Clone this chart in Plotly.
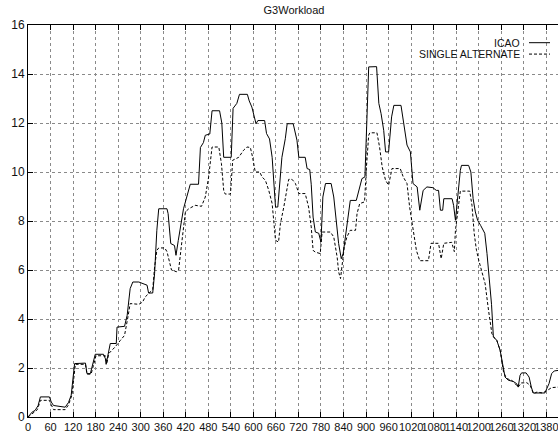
import plotly.graph_objects as go

# ICAO series (time, workload)
icao_x = [0, 11, 19, 27, 33, 57, 62, 68, 99, 108, 115, 119, 124, 153, 157, 166, 173, 179, 201, 206,
          208, 213, 219, 235, 237, 257, 264, 272, 279, 295, 305, 317, 321, 332, 337, 343, 348, 370, 373, 380,
          390, 394, 400, 410, 414, 432, 454, 459, 467, 472, 484, 490, 510, 516, 521, 541, 546, 556, 563, 584,
          589, 596, 600, 607, 612, 630, 635, 643, 650, 659, 665, 670, 676, 685, 690, 706, 712, 716, 721, 738,
          743, 750, 754, 759, 765, 774, 780, 785, 792, 807, 814, 818, 827, 834, 839, 845, 851, 858, 874, 880,
          889, 897, 901, 907, 928, 934, 940, 947, 952, 960, 968, 974, 993, 999, 1003, 1009, 1018, 1025, 1036, 1043,
          1052, 1062, 1078, 1087, 1093, 1098, 1104, 1107, 1129, 1133, 1138, 1142, 1147, 1151, 1154, 1173, 1179, 1185, 1191, 1197,
          1205, 1211, 1216, 1222, 1228, 1234, 1239, 1248, 1257, 1263, 1270, 1279, 1292, 1301, 1305, 1310, 1314, 1326, 1334, 1340,
          1345, 1370, 1376, 1387, 1394, 1401, 1411]
icao_y = [0.0, 0.2, 0.27, 0.47, 0.82, 0.82, 0.61, 0.47, 0.4, 0.6, 0.89, 1.36, 2.18, 2.2, 1.77, 1.77, 2.18, 2.56, 2.56, 2.38,
          2.15, 2.6, 3.0, 3.0, 3.67, 3.7, 4.15, 5.24, 5.51, 5.51, 5.44, 5.38, 5.06, 5.06, 5.85, 7.62, 8.5, 8.5, 8.3, 7.08,
          7.0, 6.6, 7.2, 8.2, 8.5, 9.5, 9.5, 11.0, 11.2, 11.5, 11.55, 12.5, 12.5, 12.0, 10.6, 10.6, 12.6, 12.8, 13.17, 13.17,
          12.9, 12.65, 12.4, 11.97, 12.1, 12.1, 11.57, 11.35, 10.6, 8.57, 8.57, 9.66, 10.6, 11.36, 11.97, 11.97, 11.63, 11.3, 10.6, 10.6,
          10.14, 10.1, 9.5, 8.16, 7.55, 7.5, 7.14, 8.98, 9.53, 9.53, 8.98, 8.3, 7.08, 6.46, 6.67, 7.35, 8.1, 8.84, 8.84, 9.25,
          9.73, 9.8, 11.3, 14.29, 14.3, 12.8, 12.38, 11.7, 10.82, 10.82, 12.25, 12.72, 12.72, 12.1, 11.7, 11.1, 10.82, 9.53, 9.39, 8.44,
          9.25, 9.39, 9.36, 9.25, 9.25, 8.44, 8.44, 8.91, 8.91, 8.64, 8.03, 8.7, 9.25, 10.07, 10.27, 10.27, 10.0, 8.91, 8.37, 8.03,
          7.82, 7.62, 7.5, 6.67, 5.6, 4.6, 3.27, 3.13, 2.72, 2.18, 1.63, 1.5, 1.45, 1.36, 1.22, 1.7, 1.8, 1.8, 1.63, 1.22,
          0.98, 0.98, 0.98, 1.36, 1.77, 1.88, 1.9]

# SINGLE ALTERNATE series
single_x = [0, 11, 25, 33, 57, 62, 68, 99, 108, 117, 121, 126, 153, 157, 168, 175, 181, 206, 210, 215,
            232, 246, 257, 266, 272, 295, 305, 312, 321, 332, 337, 343, 348, 364, 370, 376, 382, 395, 401, 410,
            419, 428, 445, 462, 472, 481, 490, 508, 515, 521, 525, 539, 545, 561, 574, 583, 592, 598, 605, 617,
            623, 632, 641, 650, 654, 659, 667, 672, 681, 690, 694, 703, 712, 721, 738, 747, 754, 759, 765, 778,
            783, 805, 814, 823, 827, 832, 836, 842, 849, 858, 872, 876, 883, 896, 901, 907, 910, 929, 936, 943,
            952, 960, 969, 991, 999, 1009, 1016, 1025, 1034, 1043, 1066, 1073, 1093, 1100, 1107, 1128, 1135, 1138, 1144, 1151,
            1176, 1182, 1188, 1194, 1200, 1208, 1217, 1226, 1235, 1243, 1248, 1257, 1266, 1274, 1288, 1301, 1305, 1313, 1328, 1337,
            1346, 1355, 1370, 1383, 1394, 1411]
single_y = [0.0, 0.15, 0.3, 0.68, 0.68, 0.5, 0.3, 0.3, 0.5, 0.9, 1.4, 2.15, 2.15, 1.75, 1.75, 2.15, 2.5, 2.5, 2.2, 2.59,
            2.86, 3.13, 3.33, 4.08, 4.63, 4.6, 4.69, 4.9, 5.03, 5.2, 6.12, 6.8, 6.9, 6.9, 6.75, 6.33, 6.0, 5.93, 6.0, 7.2,
            8.37, 8.5, 8.64, 8.6, 8.98, 9.8, 11.02, 11.02, 10.34, 9.25, 9.1, 9.1, 10.48, 10.6, 10.89, 11.02, 11.0, 10.6, 10.0, 10.0,
            9.8, 9.66, 9.25, 8.71, 8.03, 7.21, 7.14, 7.89, 8.57, 9.39, 9.7, 9.7, 9.53, 9.12, 9.12, 8.57, 7.76, 6.8, 6.73, 6.67,
            7.55, 7.55, 7.35, 6.53, 5.92, 5.65, 6.12, 6.94, 7.35, 7.62, 7.62, 8.3, 8.71, 8.78, 10.2, 11.5, 11.6, 11.6, 11.02, 10.2,
            9.66, 9.46, 10.14, 10.14, 9.8, 9.53, 8.57, 7.69, 6.8, 6.38, 6.38, 7.09, 7.09, 6.46, 7.09, 7.13, 6.75, 7.62, 8.37, 9.22,
            9.22, 8.64, 7.48, 6.8, 6.4, 5.92, 5.44, 4.36, 3.4, 3.2, 3.13, 2.72, 1.84, 1.57, 1.5, 1.29, 1.22, 1.39, 1.4, 1.29,
            0.95, 1.02, 0.98, 1.09, 1.2, 1.22]

x_ticks = list(range(0, 1381, 60))
y_ticks = list(range(0, 17, 2))

W, H = 558, 437
ML, MT, MB = 28, 24.5, 20.3

fig = go.Figure()
fig.add_trace(go.Scatter(x=icao_x, y=icao_y, mode="lines", name="ICAO",
                         line=dict(color="black", width=1)))
fig.add_trace(go.Scatter(x=single_x, y=single_y, mode="lines", name="SINGLE ALTERNATE",
                         line=dict(color="black", width=1, dash="3px,2px")))

FAM = "Liberation Sans, Arial, sans-serif"
font = dict(family=FAM, size=11, color="#111")
axis_common = dict(showline=True, linecolor="black", linewidth=1, ticks="inside", ticklen=5,
                   tickcolor="black", showgrid=True, gridcolor="#8a8a8a", griddash="dot", gridwidth=1,
                   zeroline=False, automargin=False)
fig.update_xaxes(range=[0, 1411], tickvals=x_ticks, ticktext=[str(v) for v in x_ticks],
                 mirror="ticks", tickangle=0, ticklabeloverflow="allow",
                 tickfont=dict(family=FAM, size=11, color="#111"), **axis_common)
fig.update_yaxes(range=[0, 16], tickvals=y_ticks, ticktext=[str(v) for v in y_ticks],
                 mirror=False, tickfont=dict(family=FAM, size=12, color="#111"), **axis_common)

# legend (gnuplot style: text then sample line)
legend_items = [("ICAO", "solid", 42.2), ("SINGLE ALTERNATE", "3px,2px", 53.6)]
annotations = []
shapes = []
for label, dash, ypix in legend_items:
    yp = (H - MB - ypix) / (H - MT - MB)
    annotations.append(dict(xref="paper", yref="paper", x=(520.5 - ML) / (W - ML), y=yp,
                            text=label, showarrow=False, xanchor="right", yanchor="middle",
                            font=dict(family=FAM, size=10.5, color="#111"),
                            borderpad=0))
    shapes.append(dict(type="line", xref="paper", yref="paper",
                       x0=(529 - ML) / (W - ML), x1=(550 - ML) / (W - ML), y0=yp, y1=yp,
                       line=dict(color="black", width=1, dash=dash)))

fig.update_layout(
    width=W, height=H,
    margin=dict(l=ML, r=0, t=MT, b=MB),
    paper_bgcolor="white", plot_bgcolor="white",
    showlegend=False,
    title=dict(text="G3Workload", x=294 / W, xanchor="center", y=1 - 10 / H, yanchor="middle",
               font=font, automargin=False),
    annotations=annotations, shapes=shapes,
)

fig.write_html("out.html")
